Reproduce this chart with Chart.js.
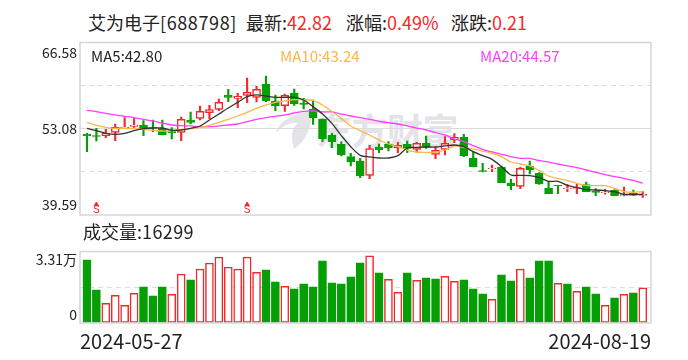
<!DOCTYPE html>
<html>
<head>
<meta charset="utf-8">
<script src="https://cdn.jsdelivr.net/npm/chart.js@4"></script>
<style>
	html, body { margin: 0; padding: 0; background: #fff; }
	body { width: 688px; height: 360px; position: relative; overflow: hidden; font-family: "Noto Sans CJK SC", sans-serif; color: #222; }
	.txt { position: absolute; white-space: nowrap; line-height: 1; }
	.up { color: #f52829; }
	canvas { position: absolute; left: 0; }
	#mark { position: absolute; left: 316px; top: 111px; font-size: 36px; font-weight: 700; color: #e3e3e8; letter-spacing: -0.5px; line-height: 1; white-space: nowrap; }
	#logo { position: absolute; left: 276px; top: 111px; }
</style>
</head>
<body>
<svg id="logo" width="38" height="40" viewBox="0 0 38 40"><path fill="#e3e3e8" d="M35 0C20 2 2 10 0 22c8-9 16-11 22-10C17 16 14 22 18 38 30 30 37 14 35 0z"/></svg>
<div id="mark">东方财富</div>
<div class="txt" style="left:88px;top:13px;font-size:18px">艾为电子<span style="letter-spacing:.6px">[688798]</span></div>
<div class="txt" style="left:246px;top:13px;font-size:18px">最新:<span class="up">42.82</span></div>
<div class="txt" style="left:346px;top:13px;font-size:18px">涨幅:<span class="up">0.49%</span></div>
<div class="txt" style="left:451px;top:13px;font-size:18px">涨跌:<span class="up">0.21</span></div>
<canvas id="priceChart" width="688" height="222" style="top:0"></canvas>
<canvas id="volumeChart" width="688" height="138" style="top:222px"></canvas>
<div class="txt" style="left:91px;top:48px;font-size:15px">MA5:42.80</div>
<div class="txt" style="left:280px;top:48px;font-size:15px;color:#fdb44a">MA10:43.24</div>
<div class="txt" style="left:480px;top:48px;font-size:15px;color:#ff3dff">MA20:44.57</div>
<div class="txt" style="left:83px;top:222px;font-size:18px">成交量:<span style="letter-spacing:.4px">16299</span></div>
<script>
const dates = ["2024-05-27", "2024-08-19"];

const opens = [52.26,52.00,52.00,52.52,53.25,53.46,53.67,53.25,53.15,52.63,52.52,54.45,54.71,55.60,56.12,58.37,57.84,58.31,58.00,60.03,
	57.43,56.70,58.68,57.11,56.17,54.61,52.11,50.65,48.72,48.04,45.80,50.23,50.65,50.07,50.65,49.87,50.80,49.08,49.87,51.33,
	51.74,48.51,46.53,46.84,47.10,44.60,44.08,47.26,46.11,43.76,44.23,43.71,43.76,44.34,43.35,43.09,43.45,42.67,43.03,42.67];
const closes = [52.00,51.90,52.42,53.31,53.36,53.67,53.15,53.15,52.11,52.47,54.56,54.09,55.81,56.07,57.22,58.00,58.16,58.78,59.25,57.48,
	56.70,58.31,57.01,56.91,54.82,51.48,51.06,48.98,47.93,45.69,49.97,49.81,50.13,50.49,50.02,50.80,50.28,49.71,50.80,51.74,
	48.87,47.15,46.42,46.94,44.65,44.18,46.89,46.68,44.49,42.93,44.18,43.82,43.87,43.24,43.14,43.19,42.62,42.77,42.67,42.82];
const highs = [52.37,53.15,52.99,53.83,54.82,54.66,54.35,54.45,54.45,53.25,54.92,55.71,56.64,56.75,57.74,59.25,58.63,61.03,59.77,61.34,
	58.37,58.52,59.30,57.84,57.58,54.61,52.37,51.06,49.24,48.46,50.49,50.70,51.06,50.96,51.17,50.96,51.95,50.18,51.85,52.32,
	52.21,49.50,47.67,47.41,47.26,45.17,47.05,48.04,46.21,44.81,44.23,44.34,44.44,44.75,43.71,43.61,43.55,43.97,43.50,43.24];
const lows = [49.50,51.17,51.69,51.22,53.20,53.31,52.00,52.63,52.11,51.48,51.22,53.83,54.45,54.66,55.91,57.32,56.38,57.17,57.27,57.32,
	55.91,55.81,56.75,56.17,53.78,51.06,50.13,48.82,47.26,45.43,45.28,49.34,49.60,49.34,49.34,49.40,50.02,48.40,48.98,50.91,
	48.72,47.10,46.32,46.37,44.65,43.55,43.71,46.01,44.39,42.93,42.93,43.24,42.93,43.24,42.62,42.83,42.62,42.56,42.62,42.36];
const ma5 = [53.15,52.79,52.37,52.21,52.37,52.79,53.10,53.20,53.20,52.84,52.89,53.15,53.52,54.45,55.39,56.33,57.22,58.10,58.37,58.21,
	58.00,58.00,58.00,57.58,56.54,55.39,53.93,52.00,50.28,48.93,48.67,48.51,48.51,48.87,50.07,50.18,50.23,50.23,50.39,50.54,
	50.28,49.50,48.87,48.30,47.15,45.85,45.80,45.74,45.43,44.86,44.86,44.23,43.87,43.55,43.50,43.40,43.24,42.82,42.82,42.80];
const ma10 = [54.09,53.62,53.31,53.15,53.15,53.10,52.99,52.84,52.73,52.79,52.99,53.10,53.31,53.62,54.09,54.56,55.08,55.65,56.28,56.80,
	57.22,57.43,57.63,57.63,57.53,56.80,55.76,54.71,53.52,52.79,52.11,51.33,50.70,50.28,49.76,49.45,49.40,49.40,49.76,50.39,
	50.18,49.92,49.60,49.24,48.72,47.88,47.57,47.26,46.53,45.69,45.28,44.96,44.55,44.23,44.18,44.18,43.76,43.24,43.15,43.24];
const ma20 = [55.97,55.76,55.50,55.24,55.03,54.82,54.56,54.30,53.98,53.67,53.57,53.52,53.41,53.41,53.52,53.67,53.83,54.19,54.56,54.82,
	55.03,55.24,55.55,55.81,55.86,55.71,55.71,55.39,55.08,54.82,54.56,54.24,54.04,53.83,53.52,53.20,52.89,52.47,52.11,51.48,
	51.06,50.44,49.86,49.45,49.08,48.72,48.46,48.46,48.09,47.88,47.57,47.26,47.00,46.63,46.27,45.90,45.59,45.33,45.01,44.57];
const volumes = [29240,15320,9130,12840,8200,13770,16710,12530,16710,13300,22590,19960,24910,27690,30480,25830,24910,30480,23510,24600,
	19030,17020,15780,18100,16710,28770,18560,18100,21350,27850,31090,23200,20270,14230,23200,19800,20880,20420,21660,19340,
	19960,15780,13460,10980,22280,19490,24910,20880,28770,28770,18410,18100,14700,16710,13460,8200,11600,13300,13920,16299];
// 1 = red hollow bar, 0 = green bar; volume colours do not always follow the candle
const volumeUp = [0,0,1,1,1,1,0,0,0,1,1,0,1,1,1,1,1,1,1,0,
	0,1,0,0,0,0,0,0,0,0,1,0,1,1,0,1,0,0,1,1,
	0,0,0,1,0,0,1,0,0,0,1,0,1,0,0,1,0,1,0,1];
const signalDays = [1, 17];

// tick value -> label; the label ticks sit a little inside the panel edges like the original
const priceTicks = [66.58, 64.95, 59.83, 53.08, 46.33, 41.15, 39.59];
const priceLabels = { 64.95: "66.58", 53.08: "53.08", 41.15: "39.59" };
const volumeTicks = [33100, 29170, 16550, 3700, 0];
const volumeLabels = { 29170: "3.31万", 3700: "0" };

const RED = "#f52829";
const GREEN = "#049f04";
const GRID = "#dcdcdc";
const PANEL = "#d5d6dc";
const FONT = "'Noto Sans CJK SC', sans-serif";
const X_MIN = -0.74;
const X_MAX = 59.87;

const panelBorder = {
	id: "panelBorder",
	afterDraw(chart) {
		const { ctx, chartArea: a } = chart;
		ctx.save();
		ctx.strokeStyle = PANEL;
		ctx.lineWidth = 1.5;
		ctx.strokeRect(a.left, a.top, a.right - a.left, a.bottom - a.top);
		ctx.restore();
	},
};

// small S under the signal arrows
const signalLabels = {
	id: "signalLabels",
	afterDatasetsDraw(chart) {
		const { ctx, scales } = chart;
		ctx.save();
		ctx.fillStyle = RED;
		ctx.font = "10px 'Liberation Sans'";
		ctx.textAlign = "center";
		ctx.textBaseline = "bottom";
		signalDays.forEach((i) => ctx.fillText("S", scales.x.getPixelForValue(i), scales.y.bottom));
		ctx.restore();
	},
};

const idx = (arr, fn) => arr.map((v, i) => ({ x: i, y: fn(v, i) }));

function lineDataset(data, color) {
	return {
		type: "line",
		data: idx(data, (v) => v),
		borderColor: color,
		borderWidth: 1.3,
		pointRadius: 0,
		tension: 0.3,
		order: 0,
	};
}

const xAxis = {
	type: "linear",
	min: X_MIN,
	max: X_MAX,
	offset: false,
	grid: { display: false },
	border: { display: false },
};

function fitYAxis(s) {
	s.width = 80;
	s.paddingTop = 0;
	s.paddingBottom = 0;
}

new Chart(document.getElementById("priceChart"), {
	type: "bar",
	plugins: [panelBorder, signalLabels],
	data: {
		datasets: [
			lineDataset(ma5, "#333333"),
			lineDataset(ma10, "#fdb44a"),
			lineDataset(ma20, "#ff3dff"),
			{
				type: "scatter",
				data: signalDays.map((i) => ({ x: i, y: 41.23 })),
				pointStyle: "triangle",
				pointRadius: 2.5,
				backgroundColor: RED,
				borderColor: RED,
				order: 0,
			},
			{
				data: idx(opens, (v, i) => [v, closes[i]]),
				grouped: false,
				barThickness: 8,
				borderSkipped: false,
				backgroundColor: (c) => (closes[c.dataIndex] >= opens[c.dataIndex] ? "#fff" : GREEN),
				borderColor: (c) => (closes[c.dataIndex] >= opens[c.dataIndex] ? RED : GREEN),
				borderWidth: 1.5,
				order: 1,
			},
			{
				data: idx(lows, (v, i) => [v, highs[i]]),
				grouped: false,
				barThickness: 1.5,
				borderSkipped: false,
				backgroundColor: (c) => (closes[c.dataIndex] >= opens[c.dataIndex] ? RED : GREEN),
				order: 2,
			},
		],
	},
	options: {
		responsive: false,
		animation: false,
		layout: { padding: { top: 42.5, right: 37, bottom: 7 } },
		plugins: { legend: { display: false }, tooltip: { enabled: false } },
		scales: {
			x: { ...xAxis, display: false },
			y: {
				min: 39.59,
				max: 66.58,
				afterBuildTicks: (s) => (s.ticks = priceTicks.map((value) => ({ value }))),
				afterFit: fitYAxis,
				ticks: {
					autoSkip: false,
					padding: 3,
					color: "#222",
					font: { family: FONT, size: 14 },
					callback: (v) => priceLabels[v] || "",
				},
				grid: { drawTicks: false, color: (c) => ([59.83, 53.08, 46.33].includes(c.tick.value) ? GRID : "transparent") },
				border: { display: false, dash: (c) => (c.tick.value === 53.08 ? [] : [5, 4]) },
			},
		},
	},
});

new Chart(document.getElementById("volumeChart"), {
	type: "bar",
	plugins: [panelBorder],
	data: {
		datasets: [
			{
				data: idx(volumes, (v) => v),
				barThickness: 8,
				borderSkipped: false,
				backgroundColor: (c) => (volumeUp[c.dataIndex] ? "#fff" : GREEN),
				borderColor: (c) => (volumeUp[c.dataIndex] ? RED : GREEN),
				borderWidth: 1.5,
			},
		],
	},
	options: {
		responsive: false,
		animation: false,
		layout: { padding: { top: 29.5, right: 37, bottom: 0 } },
		plugins: { legend: { display: false }, tooltip: { enabled: false } },
		scales: {
			x: {
				...xAxis,
				afterBuildTicks: (s) => (s.ticks = [{ value: X_MIN }, { value: X_MAX }]),
				afterFit: (s) => (s.height = 37),
				ticks: {
					autoSkip: false,
					maxRotation: 0,
					align: "inner",
					padding: -2,
					color: "#222",
					font: { family: FONT, size: 20 },
					callback: (v, i) => dates[i],
				},
			},
			y: {
				min: 0,
				max: 33100,
				afterBuildTicks: (s) => (s.ticks = volumeTicks.map((value) => ({ value }))),
				afterFit: fitYAxis,
				ticks: {
					autoSkip: false,
					padding: 3,
					color: "#222",
					font: { family: FONT, size: 14 },
					callback: (v) => volumeLabels[v] || "",
				},
				grid: { drawTicks: false, color: (c) => (c.tick.value === 16550 ? GRID : "transparent") },
				border: { display: false, dash: [5, 4] },
			},
		},
	},
});
</script>
</body>
</html>
